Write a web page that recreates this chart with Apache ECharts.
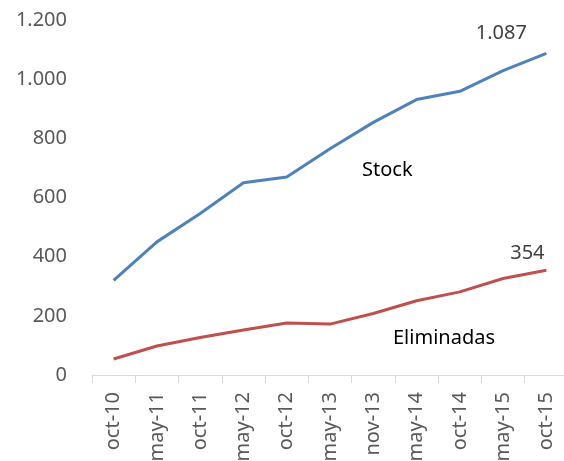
<!DOCTYPE html>
<html>
<head>
<meta charset="utf-8">
<script src="https://cdn.jsdelivr.net/npm/echarts@6/dist/echarts.min.js"></script>
<style>html,body{margin:0;padding:0;background:#fff;}#c{width:564px;height:461px;}</style>
</head>
<body>
<div id="c"></div>
<script>
var categories = ['oct-10','may-11','oct-11','may-12','oct-12','may-13','nov-13','may-14','oct-14','may-15','oct-15'];
var stock = [320, 450, 546, 650, 669, 765, 854, 931, 959, 1029, 1087];
var eliminadas = [54, 98, 127, 152, 176, 172, 208, 251, 281, 326, 354];
var yTicks = { min: 0, max: 1200, interval: 200 };

function fmt(v) { return String(v).replace(/\B(?=(\d{3})+(?!\d))/g, '.'); }
var FONT = 'Noto Sans';

function lastLabel(arr, offset) {
  return arr.map(function (v, i) {
    if (i === arr.length - 1) {
      return { value: v, label: { show: true, position: 'top', offset: offset, formatter: function (p) { return fmt(p.value); }, color: '#404040', fontSize: 20, fontFamily: FONT } };
    }
    return v;
  });
}

var chart = echarts.init(document.getElementById('c'), null, { renderer: 'canvas' });
chart.setOption({
  animation: false,
  backgroundColor: '#fff',
  grid: { left: 92, right: -4, top: 20, bottom: 86, containLabel: false, outerBoundsMode: 'none' },
  xAxis: {
    type: 'category',
    data: categories,
    boundaryGap: true,
    axisLine: { lineStyle: { color: '#d9d9d9', width: 1 } },
    axisTick: { show: true, alignWithLabel: false, length: 8, lineStyle: { color: '#d9d9d9' } },
    axisLabel: { rotate: 90, margin: 17, color: '#595959', fontSize: 20, fontFamily: FONT, interval: 0 },
    splitLine: { show: false }
  },
  yAxis: {
    type: 'value',
    min: yTicks.min, max: yTicks.max, interval: yTicks.interval,
    axisLine: { show: false },
    axisTick: { show: false },
    splitLine: { show: false },
    axisLabel: { margin: 25, color: '#595959', fontSize: 20, fontFamily: FONT, formatter: fmt }
  },
  graphic: [
    { type: 'text', left: 362, top: 160, style: { text: 'Stock', fill: '#000', fontSize: 20, fontFamily: FONT } },
    { type: 'text', left: 393, top: 328, style: { text: 'Eliminadas', fill: '#000', fontSize: 20, fontFamily: FONT } }
  ],
  series: [
    { name: 'Stock', type: 'line', data: lastLabel(stock, [-45, -5]), showSymbol: true, symbol: 'circle', symbolSize: 0, lineStyle: { color: '#4f81bd', width: 3 }, itemStyle: { color: '#4f81bd' } },
    { name: 'Eliminadas', type: 'line', data: lastLabel(eliminadas, [-19, -2]), showSymbol: true, symbol: 'circle', symbolSize: 0, lineStyle: { color: '#c0504d', width: 3 }, itemStyle: { color: '#c0504d' } }
  ]
});
</script>
</body>
</html>
